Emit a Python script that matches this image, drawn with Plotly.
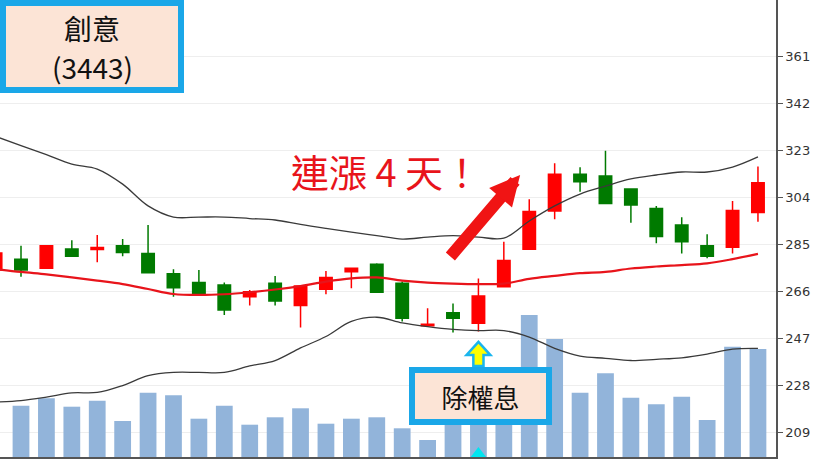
import plotly.graph_objects as go

# 日K（index 0 只露出一點點在左邊界）
days = list(range(31))
open_ = [274.5, 278.8, 275.2, 283.0, 282.8, 284.3, 281.2, 273.0, 269.4, 268.4,
         263.7, 269.1, 260.1, 266.7, 273.8, 276.8, 269.1, 252.0, 257.2, 253.0,
         267.7, 282.9, 298.3, 313.2, 312.5, 307.2, 299.4, 292.7, 284.3, 283.7,
         297.7]
high = [282.0, 284.3, 284.6, 286.5, 288.6, 287.0, 292.7, 274.8, 274.5, 269.4,
        266.4, 272.1, 268.2, 274.1, 275.3, 277.2, 269.8, 259.0, 261.0, 271.1,
        285.9, 303.1, 317.6, 316.0, 322.7, 307.4, 300.4, 295.8, 288.9, 302.4,
        316.3]
low = [274.0, 271.8, 275.0, 280.0, 277.6, 280.1, 273.2, 263.7, 264.2, 256.3,
       260.1, 260.1, 251.2, 264.7, 267.1, 265.3, 253.7, 251.8, 249.2, 249.6,
       267.5, 282.7, 295.0, 306.1, 301.2, 293.6, 285.3, 281.2, 279.2, 281.2,
       294.0]
close = [281.4, 274.5, 284.3, 280.1, 283.6, 281.6, 273.4, 267.3, 264.4, 258.3,
         265.7, 262.0, 268.0, 271.5, 275.2, 265.5, 255.0, 252.6, 255.0, 264.0,
         278.3, 298.1, 313.2, 310.2, 301.4, 300.8, 288.0, 285.9, 280.1, 298.5,
         309.8]

# 布林通道
bb_upper = [328.5, 324.8, 321.1, 317.3, 315.3, 309.2, 300.4, 295.9, 295.9, 295.9,
            295.3, 294.7, 292.9, 291.3, 289.8, 288.4, 287.0, 287.8, 288.4, 287.8,
            287.4, 294.3, 300.4, 305.2, 308.4, 311.3, 312.9, 314.1, 314.1, 316.1,
            320.2]
bb_mid = [274.9, 273.7, 272.7, 271.5, 270.2, 268.8, 266.8, 264.8, 264.4, 264.7,
          265.5, 266.6, 268.0, 269.8, 271.1, 271.5, 270.2, 269.4, 269.0, 268.8,
          269.0, 270.9, 272.1, 273.2, 273.7, 275.1, 275.9, 276.5, 277.2, 278.9,
          281.0]
bb_lower = [221.1, 221.7, 223.1, 224.8, 225.0, 227.8, 231.8, 233.1, 233.1, 233.1,
            235.7, 237.9, 243.0, 247.6, 253.7, 255.4, 253.1, 251.6, 250.5, 250.0,
            250.0, 247.4, 242.8, 239.7, 238.8, 237.9, 238.4, 239.0, 240.5, 242.5,
            242.8]

# 成交量（張）
volume = [None, 2565, 2935, 2515, 2815, 1800, 3215, 3085, 1915, 2565,
          1615, 1985, 2435, 1665, 1915, 1985, 1435, 850, 1800, 2000,
          1900, 7100, 5900, 3215, 4185, 2965, 2635, 3015, 1850, 5515,
          5400]

price_ticks = [209, 228, 247, 266, 285, 304, 323, 342, 361]
ex_div_day = 19

BLUE = "#1aa7e8"
PEACH = "#fce4d6"
CJK = "Noto Sans CJK TC"

fig = go.Figure()

fig.add_trace(go.Bar(x=days, y=volume, marker_color="#92b4da",
                     marker_line_width=0, width=0.66, yaxis="y"))

for band in (bb_upper, bb_lower):
    fig.add_trace(go.Scatter(x=days, y=band, mode="lines", yaxis="y2",
                             line=dict(color="#3a3a3a", width=1.3,
                                       shape="spline")))
fig.add_trace(go.Scatter(x=days, y=bb_mid, mode="lines", yaxis="y2",
                         line=dict(color="#e8141b", width=2.2,
                                   shape="spline")))

fig.add_trace(go.Candlestick(
    x=days, open=open_, high=high, low=low, close=close, yaxis="y2",
    increasing=dict(line=dict(color="#ff0000", width=1.5), fillcolor="#ff0000"),
    decreasing=dict(line=dict(color="#007a00", width=1.5), fillcolor="#007a00"),
))

# 除權息日底部的小標記
fig.add_trace(go.Scatter(x=[ex_div_day], y=[0], mode="markers", yaxis="y",
                         marker=dict(symbol="triangle-up", size=20,
                                     color="#00e5f0")))

# 左上角股票名稱框
fig.add_annotation(xref="paper", yref="paper", x=0, y=1,
                   xanchor="left", yanchor="top", showarrow=False,
                   text="", width=172, height=81,
                   bgcolor=PEACH, bordercolor=BLUE, borderwidth=6,
                   borderpad=0)
fig.add_annotation(xref="paper", yref="paper", x=92 / 776, y=1 - 28 / 457,
                   xanchor="center", yanchor="middle", showarrow=False,
                   text="創意",
                   font=dict(family=CJK, size=28, color="#111"))
fig.add_annotation(xref="paper", yref="paper", x=92 / 776, y=1 - 67 / 457,
                   xanchor="center", yanchor="middle", showarrow=False,
                   text="(3443)",
                   font=dict(family=CJK, size=28, color="#111"))

fig.add_annotation(xref="paper", yref="paper", x=0.498, y=0.628,
                   xanchor="center", yanchor="middle", showarrow=False,
                   text="連漲 4 天！",
                   font=dict(family=CJK, size=38, color="#e8141b"))

# 紅色上漲箭頭
fig.add_annotation(x=20.64, y=312.9, xref="x", yref="y2", text="",
                   showarrow=True, ax=-71, ay=83, arrowhead=2,
                   arrowsize=0.5, arrowwidth=12, arrowcolor="#f01414",
                   standoff=0)

fig.add_annotation(x=19.1, y=223.5, xref="x", yref="y2", showarrow=False,
                   xanchor="center", yanchor="middle",
                   text="除權息", width=131, height=46,
                   bgcolor=PEACH, bordercolor=BLUE, borderwidth=6,
                   borderpad=0, font=dict(family=CJK, size=26, color="#111"))

# 青色小箭頭（指向除權息那根K棒）
fig.add_shape(type="path", xref="x", yref="y2",
              path="M 18.53,240.1 L 19,245.4 L 19.47,240.1 L 19.2,240.1 "
                   "L 19.2,235.7 L 18.8,235.7 L 18.8,240.1 Z",
              line=dict(color="#19b5ee", width=2.5), fillcolor="#ffff00")

fig.update_layout(
    width=820, height=460,
    margin=dict(l=0, r=44, t=0, b=3),
    paper_bgcolor="white", plot_bgcolor="white",
    showlegend=False,
    xaxis=dict(range=[0.1736, 30.71], showticklabels=False, ticks="",
               showgrid=False, zeroline=False, showline=True,
               linecolor="#555", linewidth=2, rangeslider=dict(visible=False)),
    yaxis=dict(range=[0, 22850], visible=False, showgrid=False),
    yaxis2=dict(overlaying="y", side="right", range=[198.9, 383.64],
                tickvals=price_ticks, ticks="outside", ticklen=5,
                tickcolor="#555", showline=True, linecolor="#555",
                linewidth=1.5, showgrid=True, gridcolor="#eeeeee",
                zeroline=False,
                tickfont=dict(family="DejaVu Sans", size=13, color="#333")),
)

fig.write_html("out.html", config={"displayModeBar": False},
               post_script="document.body.style.margin='0';")
